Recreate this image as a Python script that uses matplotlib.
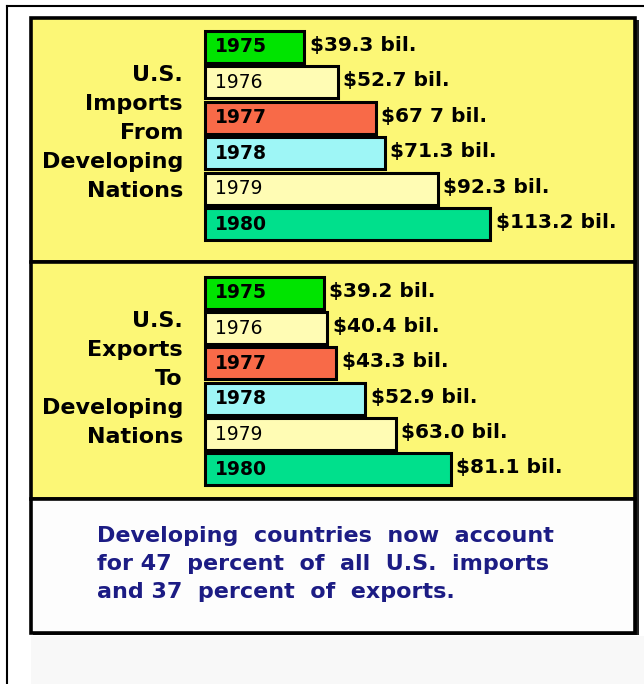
import matplotlib.pyplot as plt
from matplotlib.patches import Rectangle

years = ["1975", "1976", "1977", "1978", "1979", "1980"]
imports = [39.3, 52.7, 67.7, 71.3, 92.3, 113.2]
exports = [39.2, 40.4, 43.3, 52.9, 63.0, 81.1]
import_labels = ["$39.3 bil.", "$52.7 bil.", "$67 7 bil.", "$71.3 bil.", "$92.3 bil.", "$113.2 bil."]
export_labels = ["$39.2 bil.", "$40.4 bil.", "$43.3 bil.", "$52.9 bil.", "$63.0 bil.", "$81.1 bil."]
import_title = "U.S.\nImports\nFrom\nDeveloping\nNations"
export_title = "U.S.\nExports\nTo\nDeveloping\nNations"
note = ("Developing  countries  now  account\n"
        "for 47  percent  of  all  U.S.  imports\n"
        "and 37  percent  of  exports.")

bar_colors = ["#00e400", "#fffcb4", "#f86a48", "#9ef6f6", "#fffcb4", "#00e08c"]
year_weights = ["bold", "normal", "bold", "bold", "normal", "bold"]
panel_yellow = "#fcf776"
navy = "#1c1c84"

W, H = 644, 684
fig = plt.figure(figsize=(W / 100, H / 100), dpi=100)
fig.patch.set_facecolor("white")

# background in pixel coordinates
bg = fig.add_axes([0, 0, 1, 1])
bg.set_xlim(0, W)
bg.set_ylim(H, 0)
bg.axis("off")

bg.plot([7, W], [6, 6], color="black", lw=1.5)
bg.plot([7, 7], [6, H], color="black", lw=1.5)
bg.add_patch(Rectangle((31, 636), W - 31, H - 636, facecolor="#f8f8f8", edgecolor="none"))

# panels with a dark shadow on the right/bottom
for (y0, y1, fc) in [(18, 262, panel_yellow), (262, 499, panel_yellow), (499, 633, "#fdfdfd")]:
    bg.add_patch(Rectangle((33, y0 + 2), 606, y1 - y0, facecolor="#222222", edgecolor="none"))
    bg.add_patch(Rectangle((31, y0), 604, y1 - y0, facecolor=fc, edgecolor="black", lw=2.6))

bg.text(183, 133, import_title, ha="right", va="center", fontsize=16, fontweight="bold",
        linespacing=1.56, family="DejaVu Sans")
bg.text(183, 379, export_title, ha="right", va="center", fontsize=16, fontweight="bold",
        linespacing=1.56, family="DejaVu Sans")
bg.text(97, 564, note, ha="left", va="center", fontsize=16, color=navy, fontweight="bold",
        linespacing=1.5, family="DejaVu Sans")


def bar_panel(top_px, bottom_px, px_per_unit, values, labels):
    left_px, right_px = 205, 635
    ax = fig.add_axes([left_px / W, 1 - bottom_px / H,
                       (right_px - left_px) / W, (bottom_px - top_px) / H])
    ax.set_xlim(0, (right_px - left_px) / px_per_unit)
    ax.set_ylim(len(values) - 0.5, -0.5)
    ax.axis("off")
    ax.patch.set_alpha(0)
    bars = ax.barh(range(len(values)), values, height=0.9, color=bar_colors,
                   edgecolor="black", linewidth=2.2)
    for b in bars:
        b.set_clip_on(False)
    for i, v in enumerate(values):
        ax.annotate(years[i], (0, i), xytext=(7, 0), textcoords="offset points",
                    ha="left", va="center", fontsize=13.5, fontweight=year_weights[i])
        ax.annotate(labels[i], (v, i), xytext=(4, 1), textcoords="offset points",
                    ha="left", va="center", fontsize=14.5, fontweight="bold")
    return ax


bar_panel(29, 242, 2.52, imports, import_labels)
bar_panel(275, 487, 3.03, exports, export_labels)

fig.savefig("out.png", dpi=100)
